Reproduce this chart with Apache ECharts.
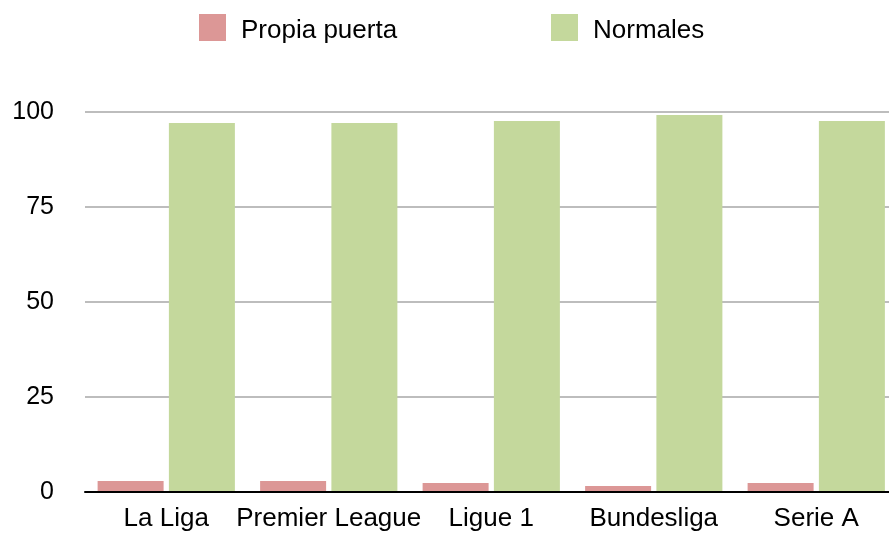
<!DOCTYPE html>
<html><head><meta charset="utf-8">
<script src="https://cdn.jsdelivr.net/npm/echarts@6/dist/echarts.min.js"></script>
<style>html,body{margin:0;padding:0;background:#fff}#c{width:889px;height:533px}</style>
</head><body><div id="c"></div>
<script>
const categories = ["La Liga", "Premier League", "Ligue 1", "Bundesliga", "Serie A"];
const propiaPuerta = [2.9, 2.9, 2.4, 1.6, 2.4];
const normales = [97.1, 97.1, 97.6, 99.2, 97.6];
const yTicks = [0, 25, 50, 75, 100];

const font = '"Liberation Sans", Arial, Helvetica, sans-serif';
const legendText = {
  fontFamily: font, fontSize: 26, color: '#000', padding: [0, 0, 0, 10],
  rich: { t: { fontFamily: font, fontSize: 26, color: '#000', padding: [6, 0, 0, 0] } }
};
const chart = echarts.init(document.getElementById('c'));
chart.setOption({
  animation: false,
  legend: [
    { left: 199, top: 14, padding: 0, itemWidth: 27, itemHeight: 27, icon: 'rect', textStyle: legendText, formatter: '{t|{name}}', data: ['Propia puerta'] },
    { left: 551, top: 14, padding: 0, itemWidth: 27, itemHeight: 27, icon: 'rect', textStyle: legendText, formatter: '{t|{name}}', data: ['Normales'] }
  ],
  grid: { left: 85, width: 812.5, top: 112, bottom: 41, containLabel: false, outerBoundsMode: 'none' },
  xAxis: {
    type: 'category', data: categories, z: 5,
    axisLine: { lineStyle: { color: '#000', width: 2 } },
    axisTick: { show: false },
    axisLabel: { fontFamily: font, fontSize: 26, color: '#000', margin: 14, interval: 0 }
  },
  yAxis: {
    type: 'value', min: yTicks[0], max: yTicks[yTicks.length - 1], interval: 25,
    axisLine: { show: false }, axisTick: { show: false },
    axisLabel: { fontFamily: font, fontSize: 25, color: '#000', margin: 31 },
    splitLine: { lineStyle: { color: '#bdbdbd', width: 2 } }
  },
  series: [
    { name: 'Propia puerta', type: 'bar', data: propiaPuerta, barWidth: 66, barGap: '8%', itemStyle: { color: '#dc9796' } },
    { name: 'Normales', type: 'bar', data: normales, barWidth: 66, itemStyle: { color: '#c4d89c' } }
  ]
});
</script></body></html>
